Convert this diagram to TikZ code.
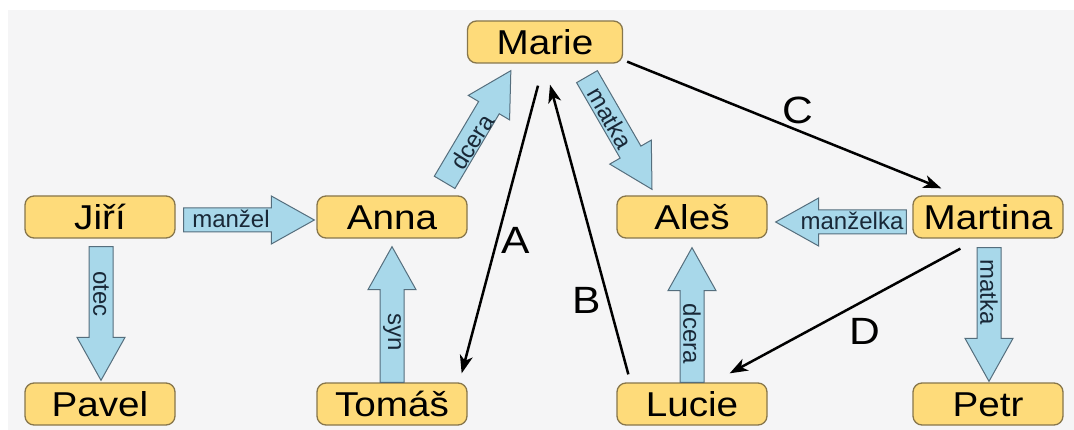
\documentclass[tikz,border=0pt]{standalone}
\usepackage{fontspec}
\setmainfont{Liberation Sans}
\newfontfamily\widefont{Liberation Sans}[FakeStretch=1.12]
\usetikzlibrary{calc,arrows.meta}
\definecolor{bgc}{RGB}{245,245,246}
\definecolor{nfill}{RGB}{254,219,122}
\definecolor{ndraw}{RGB}{135,118,75}
\definecolor{afill}{RGB}{168,216,234}
\definecolor{adraw}{RGB}{85,110,125}
\definecolor{atext}{RGB}{25,40,55}
% block arrow from tail #1 to tip #2
\newcommand\blockarr[2]{%
  \coordinate (bh) at ($(#2)!43pt!(#1)$);
  \draw[barrow] ($(#1)!12pt!90:(#2)$) -- ($(bh)!12pt!-90:(#1)$) -- ($(bh)!24pt!-90:(#1)$) -- (#2)
     -- ($(bh)!24pt!90:(#1)$) -- ($(bh)!12pt!90:(#1)$) -- ($(#1)!12pt!-90:(#2)$) -- cycle;}
\begin{document}
\begin{tikzpicture}[x=1pt,y=-1pt,
  person/.style={draw=ndraw, line width=1.3pt, fill=nfill, rounded corners=9pt,
    minimum width=150pt, minimum height=42pt, inner sep=0pt, text height=24.5pt, text depth=0pt,
    font=\widefont\fontsize{34.5}{34.5}\selectfont},
  barrow/.style={draw=adraw, line width=1pt, fill=afill, line join=miter},
  atxt/.style={inner sep=0pt, text=atext, font=\fontsize{24}{24}\selectfont},
  rel/.style={line width=2.5pt, -{Stealth[length=18pt,width=13pt,inset=5pt]}},
  lab/.style={inner sep=0pt, font=\widefont\fontsize{38}{38}\selectfont}]
\fill[white] (0,0) rectangle (1074,430);
\fill[bgc] (8,10) rectangle (1074,430);
\useasboundingbox (0,0) rectangle (1074,430);

\node[person, minimum width=155pt] (marie) at (545,42) {Marie};
\node[person] (jiri) at (100,217) {Jiří};
\node[person] (anna) at (392,217) {Anna};
\node[person] (ales) at (692,217) {Aleš};
\node[person] (martina) at (988,217) {Martina};
\node[person] (pavel) at (100,404) {Pavel};
\node[person] (tomas) at (392,404) {Tomáš};
\node[person] (lucie) at (692,404) {Lucie};
\node[person] (petr) at (988,404) {Petr};

% block arrows
\coordinate (t1) at ($(jiri.east)+(8,3)$);   \coordinate (p1) at ($(anna.west)+(-2,3)$);
\coordinate (t2) at ($(martina.west)+(-6,5)$); \coordinate (p2) at ($(ales.east)+(8,5)$);
\coordinate (t3) at ($(jiri.south)+(1,8)$);  \coordinate (p3) at ($(pavel.north)+(1,-2)$);
\coordinate (t4) at ($(tomas.north)+(0,0)$); \coordinate (p4) at ($(anna.south)+(0,8)$);
\coordinate (t5) at ($(lucie.north)+(0,0)$); \coordinate (p5) at ($(ales.south)+(0,9)$);
\coordinate (t6) at ($(martina.south)+(1,9)$); \coordinate (p6) at ($(petr.north)+(1,-1)$);
\coordinate (t7) at ($(anna.north east)+(-23,-13)$); \coordinate (p7) at ($(marie.south west)+(44,7)$);
\coordinate (t8) at ($(marie.south)+(42,13)$); \coordinate (p8) at ($(ales.north)+(-40,-6)$);
\blockarr{t1}{p1}
\blockarr{t2}{p2}
\blockarr{t3}{p3}
\blockarr{t4}{p4}
\blockarr{t5}{p5}
\blockarr{t6}{p6}
\blockarr{t7}{p7}
\blockarr{t8}{p8}
\node[atxt] (l1) at (231,219) {manžel};
\node[atxt] (l2) at (852,221) {manželka};
\node[atxt, rotate=-90] (l3) at (101,294) {otec};
\node[atxt, rotate=-90] (l4) at (392,332) {syn};
\node[atxt, rotate=-90] (l5) at (692,334) {dcera};
\node[atxt, rotate=-90] (l6) at (989,292) {matka};
\node[atxt, rotate=58] (l7) at (472,142) {dcera};
\node[atxt, rotate=-60] (l8) at (610,118) {matka};

% relation lines
\draw[rel] ($(marie.south)+(-7,22)$) -- ($(tomas.north east)+(-6,-9)$);
\draw[rel] ($(lucie.north west)+(12,-8)$) -- ($(marie.south)+(5,21)$);
\draw[rel] ($(marie.south east)+(4,-2)$) -- ($(martina.north west)+(29,-7)$);
\draw[rel] ($(martina.south west)+(48,10)$) -- ($(lucie.north east)+(-38,-9)$);
\node[lab] (la) at (516,240) {A};
\node[lab] (lb) at (587,300) {B};
\node[lab] (lc) at (798,110) {C};
\node[lab] (ld) at (865,331) {D};
\end{tikzpicture}
\end{document}
